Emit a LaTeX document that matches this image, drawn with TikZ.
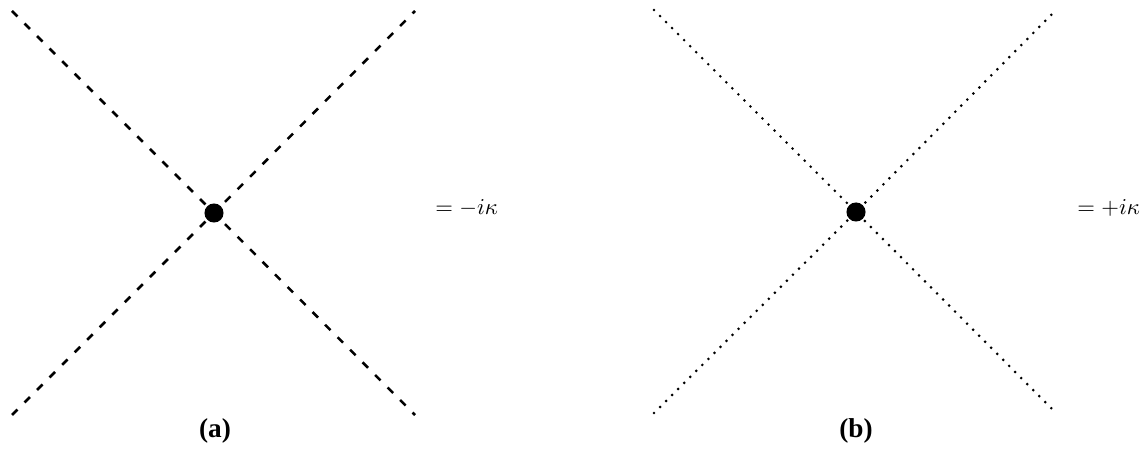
\documentclass[tikz,border=0pt]{standalone}
\usepackage{fontspec}
\newfontfamily\labfont{Liberation Serif}
\begin{document}
\begin{tikzpicture}[x=0.44pt,y=-0.44pt,
  dashline/.style={line width=1.1pt,dash pattern=on 3.4pt off 4.4pt},
  dotline/.style={line width=1.3pt,line cap=round,dash pattern=on 0pt off 3.75pt},
  vertexdot/.style={circle,fill=black,inner sep=0pt,minimum size=8.4pt},
  sublabel/.style={font=\labfont\bfseries\fontsize{12}{14}\selectfont},
  eqlabel/.style={anchor=west,inner sep=0pt}]
\useasboundingbox (0,0) rectangle (1145,449);
% (a)
\coordinate (a) at (214,213);
\coordinate (atl) at (12,11);
\coordinate (atr) at (415,11);
\coordinate (abl) at (12,415);
\coordinate (abr) at (415,415);
\draw[dashline] (atl) -- (a) -- (abr);
\draw[dashline] (abl) -- (a) -- (atr);
\node[vertexdot] (va) at (a) {};
\node[eqlabel] (eqa) at (435,208) {$=-i\kappa$};
\node[sublabel] (la) at (215,431) {(a)};
% (b)
\coordinate (b) at (856,212);
\coordinate (btl) at (654,10);
\coordinate (btr) at (1056,10);
\coordinate (bbl) at (654,413);
\coordinate (bbr) at (1056,413);
\draw[dotline] (btl) -- (b) -- (bbr);
\draw[dotline] (bbl) -- (b) -- (btr);
\node[vertexdot] (vb) at (b) {};
\node[eqlabel] (eqb) at (1077,208) {$=+i\kappa$};
\node[sublabel] (lb) at (856,431) {(b)};
\end{tikzpicture}
\end{document}
